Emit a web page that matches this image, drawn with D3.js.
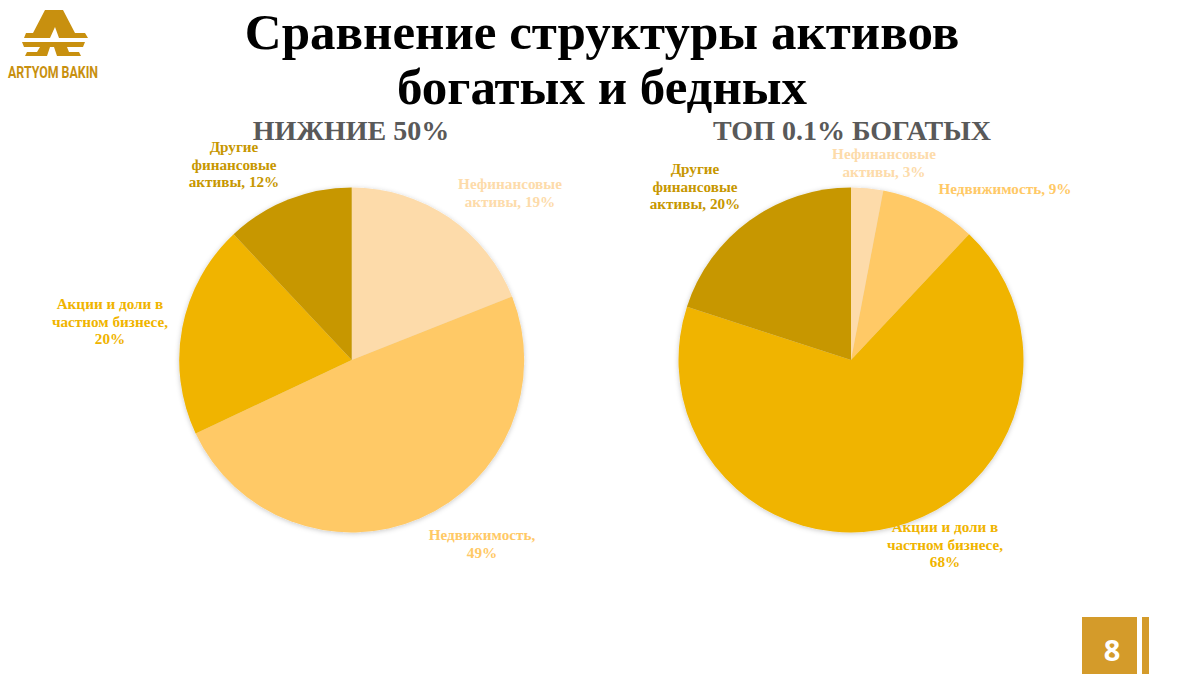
<!DOCTYPE html>
<html>
<head>
<meta charset="utf-8">
<script src="https://cdn.jsdelivr.net/npm/d3@7"></script>
<style>
  html, body { margin: 0; padding: 0; background: #fff; }
  svg { display: block; }
  text { font-family: "Liberation Serif", serif; font-weight: bold; }
</style>
</head>
<body>
<div id="chart"></div>
<script>
const titleLines = ['Сравнение структуры активов', 'богатых и бедных'];
const categories = ['Нефинансовые активы', 'Недвижимость', 'Акции и доли в частном бизнесе', 'Другие финансовые активы'];
const colors = ['#fddbaa', '#ffc966', '#f0b400', '#c79700'];
const bottomTitle = 'НИЖНИЕ 50%';
const bottomValues = [19, 49, 20, 12];
const topTitle = 'ТОП 0.1% БОГАТЫХ';
const topValues = [3, 9, 68, 20];
const bottomLabels = [
  ['Нефинансовые', 'активы, 19%'],
  ['Недвижимость,', '49%'],
  ['Акции и доли в', 'частном бизнесе,', '20%'],
  ['Другие', 'финансовые', 'активы, 12%']
];
const topLabels = [
  ['Нефинансовые', 'активы, 3%'],
  ['Недвижимость, 9%'],
  ['Акции и доли в', 'частном бизнесе,', '68%'],
  ['Другие', 'финансовые', 'активы, 20%']
];

const width = 1200;
const height = 674;
const radius = 172.5;

const svg = d3.select('#chart').append('svg')
    .attr('width', width)
    .attr('height', height);

const shadow = svg.append('defs').append('filter')
    .attr('id', 'shadow')
    .attr('x', '-10%').attr('y', '-10%')
    .attr('width', '120%').attr('height', '120%');
shadow.append('feDropShadow')
    .attr('dx', 0).attr('dy', 1)
    .attr('stdDeviation', 2.5)
    .attr('flood-color', '#000')
    .attr('flood-opacity', 0.22);

// title
svg.selectAll('.title')
    .data(titleLines)
  .enter().append('text')
    .attr('class', 'title')
    .attr('x', 602)
    .attr('y', (d, i) => 49 + i * 55)
    .attr('text-anchor', 'middle')
    .style('font-size', '51px')
    .attr('fill', '#000')
    .text(d => d);

const color = d3.scaleOrdinal().domain(categories).range(colors);
const pie = d3.pie().sort(null);
const arc = d3.arc().innerRadius(0).outerRadius(radius);

function drawPie(cx, title, titleX, values, labels, labelPos) {
  svg.append('text')
      .attr('x', titleX)
      .attr('y', 140)
      .attr('text-anchor', 'middle')
      .style('font-size', '28px')
      .attr('fill', '#595959')
      .text(title);

  const g = svg.append('g')
      .attr('transform', 'translate(' + cx + ',360)');

  g.append('g')
      .attr('filter', 'url(#shadow)')
    .selectAll('path')
      .data(pie(values))
    .enter().append('path')
      .attr('d', arc)
      .attr('fill', (d, i) => color(categories[i]));

  labels.forEach((lines, i) => {
    const t = svg.append('text')
        .attr('text-anchor', 'middle')
        .style('font-size', '15.2px')
        .attr('fill', colors[i]);
    lines.forEach((line, j) => {
      t.append('tspan')
          .attr('x', labelPos[i][0])
          .attr('y', labelPos[i][1] + j * 17.5)
          .text(line);
    });
  });
}

drawPie(351.7, bottomTitle, 351, bottomValues, bottomLabels,
  [[510, 189], [482, 540], [110, 309], [234, 152]]);
drawPie(851, topTitle, 852, topValues, topLabels,
  [[884, 159], [1005, 194], [945, 532], [695, 174]]);

// logo
const logo = svg.append('g').attr('fill', '#c8900f');
logo.append('path')
    .attr('d', 'M45 10 H63 L75 33 H85 L88 38 H59 L55 27 L50 38 H24 L26 33 H33 Z');
logo.append('path')
    .attr('d', 'M22 42 H85 L83 47 H67 L69 52 H79 L81 56 H57 L54 47 H50 L47 56 H25 L27 52 H37 L40 47 H24 Z');
svg.append('text')
    .attr('x', 53)
    .attr('y', 78)
    .attr('text-anchor', 'middle')
    .attr('textLength', 90)
    .attr('lengthAdjust', 'spacingAndGlyphs')
    .style('font-family', '"Roboto", sans-serif')
    .style('font-size', '17px')
    .attr('fill', '#c8900f')
    .text('ARTYOM BAKIN');

// page number
svg.append('rect')
    .attr('x', 1082).attr('y', 617)
    .attr('width', 55).attr('height', 57)
    .attr('fill', '#d49b2a');
svg.append('rect')
    .attr('x', 1142).attr('y', 617)
    .attr('width', 7).attr('height', 57)
    .attr('fill', '#d49b2a');
svg.append('text')
    .attr('x', 1112)
    .attr('y', 661)
    .attr('text-anchor', 'middle')
    .style('font-family', '"Open Sans", sans-serif')
    .style('font-size', '29px')
    .attr('fill', '#fff')
    .text('8');
</script>
</body>
</html>
